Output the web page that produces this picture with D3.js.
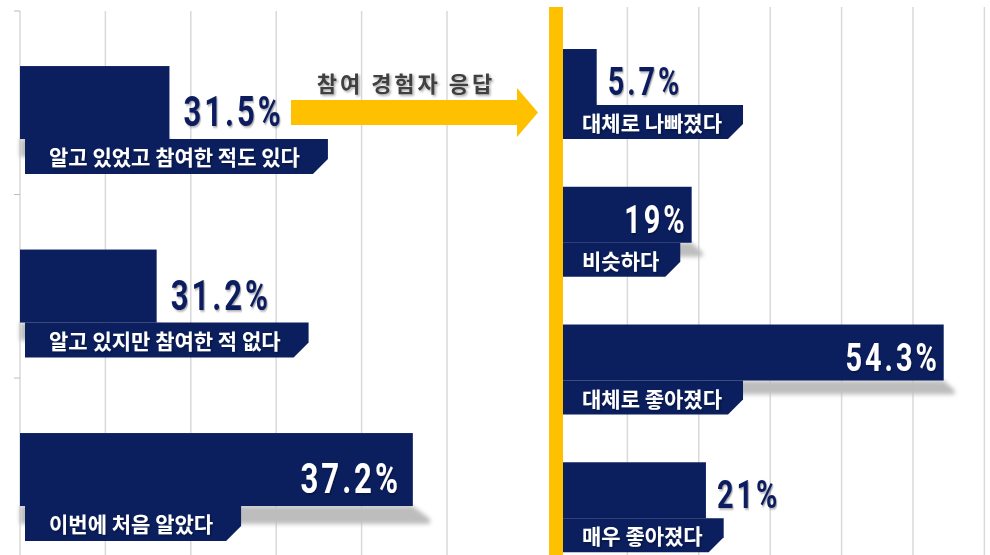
<!DOCTYPE html>
<html>
<head>
<meta charset="utf-8">
<script src="https://cdn.jsdelivr.net/npm/d3@7"></script>
<style>
  html, body { margin: 0; padding: 0; background: #fff; }
  svg { display: block; }
  .cat { font-family: "Noto Sans CJK KR", sans-serif; font-weight: 700; fill: #fff; }
  .val { font-family: Roboto, "DejaVu Sans", sans-serif; font-weight: 700; }
</style>
</head>
<body>
<div id="chart"></div>
<script>
// left panel: awareness of the programme
const leftCats = ["알고 있었고 참여한 적도 있다", "알고 있지만 참여한 적 없다", "이번에 처음 알았다"];
const leftValues = [31.5, 31.2, 37.2];

// right panel: answers of the people who took part
const rightCats = ["대체로 나빠졌다", "비슷하다", "대체로 좋아졌다", "매우 좋아졌다"];
const rightValues = [5.7, 19, 54.3, 21];

const arrowLabel = "참여 경험자 응답";

// value labels that sit inside the bar (white) instead of next to it
const insideLabels = new Set(["이번에 처음 알았다", "비슷하다", "대체로 좋아졌다"]);

const NAVY = "#0b1f5f";
const YELLOW = "#ffc000";
const GRID = "#d9d9d9";

let width = 990;
let height = 555;

let svg = d3
  .select("#chart")
  .append("svg")
  .attr("width", width)
  .attr("height", height);

let defs = svg.append("defs");
let txtShadow = defs.append("filter").attr("id", "txtShadow")
  .attr("x", "-20%").attr("y", "-20%").attr("width", "140%").attr("height", "140%");
txtShadow.append("feDropShadow")
  .attr("dx", 1.5).attr("dy", 1.5).attr("stdDeviation", 1)
  .attr("flood-color", "#000").attr("flood-opacity", 0.35);
let barShadow = defs.append("filter").attr("id", "barShadow")
  .attr("x", "-10%").attr("y", "-50%").attr("width", "120%").attr("height", "200%");
barShadow.append("feGaussianBlur").attr("stdDeviation", 2);

// scales. left axis is truncated (starts at 28%)
let xLeft = d3.scaleLinear().domain([28, 38]).range([20, 447]);
let yLeft = d3.scaleBand().domain(leftCats).range([11, 561.5]);
let xRight = d3.scaleLinear().domain([0, 60]).range([556, 984.4]);
let yRight = d3.scaleBand().domain(rightCats).range([7, 558]);

let left_opts = {
  bar_top: 0.30, // fraction of band
  bar_h: 73,
  tag_h: 35,
  tag_x: 25,
  tag_pad_l: 24,
  tag_pad_r: 28,
  cut: 15,
  cat_size: 21,
  val_size: 42,
  val_base: 60,
  val_out: 14,
  val_in: 12,
  shadow_ext: 17,
  shadow_h: 18,
};

let right_opts = {
  bar_top: 0.305,
  bar_h: 56,
  tag_h: 34,
  tag_x: 563,
  tag_pad_l: 19,
  tag_pad_r: 21,
  cut: 15,
  cat_size: 21,
  val_size: 39,
  val_base: 46,
  val_out: 11,
  val_in: 4,
  shadow_ext: 11,
  shadow_h: 14,
};

// value font is squeezed to look condensed
const val_squeeze = 0.74;

// gridlines
let grid = svg.append("g");
grid.selectAll(".gl")
  .data(xLeft.ticks(5))
  .join("line")
  .attr("x1", (d) => xLeft(d)).attr("x2", (d) => xLeft(d))
  .attr("y1", 11).attr("y2", height)
  .attr("stroke", GRID).attr("stroke-width", 1.5);
grid.selectAll(".gr")
  .data(xRight.ticks(6).filter((d) => d > 0))
  .join("line")
  .attr("x1", (d) => xRight(d)).attr("x2", (d) => xRight(d))
  .attr("y1", 7).attr("y2", height)
  .attr("stroke", GRID).attr("stroke-width", 1.5);

// small category ticks on the left axis
grid.selectAll(".tk")
  .data(leftCats)
  .join("line")
  .attr("x1", 14).attr("x2", 20)
  .attr("y1", (d) => yLeft(d)).attr("y2", (d) => yLeft(d))
  .attr("stroke", "#bbb").attr("stroke-width", 1);

function drawPanel(cats, values, x, y, o) {
  let g = svg.append("g");
  let data = cats.map((c, i) => {
    let top = y(c) + y.bandwidth() * o.bar_top;
    return { cat: c, value: values[i], x0: x.range()[0], x1: x(values[i]), top: top, bottom: top + o.bar_h };
  });

  // shadow under the bar
  g.selectAll(".shadow")
    .data(data)
    .join("polygon")
    .attr("points", (d) => [
      [d.x0, d.bottom],
      [d.x1, d.bottom],
      [d.x1 + o.shadow_ext, d.bottom + o.shadow_h * 0.7],
      [d.x1 + o.shadow_ext, d.bottom + o.shadow_h],
      [d.x0, d.bottom + o.shadow_h],
    ].join(" "))
    .attr("fill", "#bdbdbd")
    .attr("filter", "url(#barShadow)");

  g.selectAll(".bar")
    .data(data)
    .join("rect")
    .attr("x", (d) => d.x0)
    .attr("y", (d) => d.top)
    .attr("width", (d) => d.x1 - d.x0)
    .attr("height", o.bar_h)
    .attr("fill", NAVY);

  // category tag: text first so we can measure it
  let tags = g.selectAll(".tag")
    .data(data)
    .join("g");
  let tagBox = tags.append("polygon").attr("fill", NAVY);
  let tagTxt = tags.append("text")
    .attr("class", "cat")
    .attr("font-size", o.cat_size)
    .attr("x", o.tag_x + o.tag_pad_l)
    .attr("y", (d) => d.bottom + 26)
    .attr("filter", "url(#txtShadow)")
    .text((d) => d.cat);
  tagTxt.each(function (d) {
    d.tag_w = this.getComputedTextLength() + o.tag_pad_l + o.tag_pad_r;
  });
  tagBox.attr("points", (d) => {
    let xa = o.tag_x, xb = o.tag_x + d.tag_w;
    let ya = d.bottom, yb = d.bottom + o.tag_h;
    return [[xa, ya], [xb, ya], [xb, yb - o.cut], [xb - o.cut, yb], [xa, yb]].join(" ");
  });

  // value labels
  g.selectAll(".val")
    .data(data)
    .join("text")
    .attr("class", "val")
    .attr("font-size", o.val_size)
    .attr("letter-spacing", 4)
    .attr("transform", (d) => {
      let tx = insideLabels.has(d.cat) ? d.x1 - o.val_in : d.x1 + o.val_out;
      return `translate(${tx},${d.top + o.val_base}) scale(${val_squeeze},1)`;
    })
    .attr("text-anchor", (d) => insideLabels.has(d.cat) ? "end" : "start")
    .attr("fill", (d) => insideLabels.has(d.cat) ? "#fff" : NAVY)
    .attr("filter", "url(#txtShadow)")
    .text((d) => d.value + "%");
}

drawPanel(leftCats, leftValues, xLeft, yLeft, left_opts);
drawPanel(rightCats, rightValues, xRight, yRight, right_opts);

// yellow divider at the right panel's zero
svg.append("rect")
  .attr("x", xRight(0) - 7)
  .attr("y", 7)
  .attr("width", 14)
  .attr("height", height - 7)
  .attr("fill", YELLOW);

// arrow from left panel to right panel
let arrow = svg.append("g");
arrow.append("polygon")
  .attr("points", [
    [291, 100], [517, 100], [517, 88], [538, 112.5],
    [517, 137], [517, 125], [291, 125],
  ].join(" "))
  .attr("fill", YELLOW);
arrow.append("text")
  .attr("x", 406)
  .attr("y", 92)
  .attr("text-anchor", "middle")
  .attr("font-family", "Noto Sans CJK KR, sans-serif")
  .attr("font-weight", 700)
  .attr("font-size", 22)
  .attr("letter-spacing", 3)
  .attr("fill", "#404040")
  .attr("filter", "url(#txtShadow)")
  .text(arrowLabel);
</script>
</body>
</html>
